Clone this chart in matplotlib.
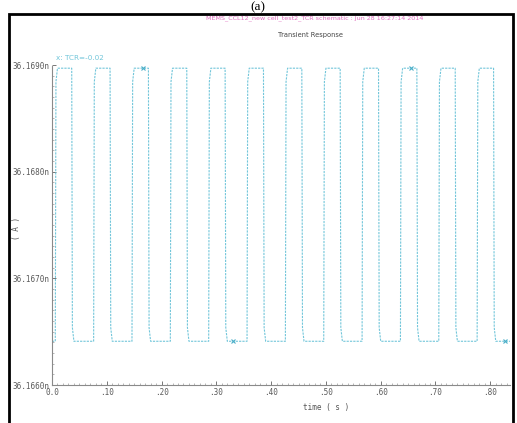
import numpy as np
import matplotlib.pyplot as plt
from matplotlib.patches import Rectangle

# pulse edges (s) and the two current levels (nA)
rise_times = [0.006, 0.076, 0.146, 0.216, 0.286, 0.356, 0.426, 0.496, 0.566, 0.636, 0.706, 0.776]
fall_times = [0.036, 0.106, 0.176, 0.246, 0.316, 0.386, 0.456, 0.526, 0.596, 0.666, 0.736, 0.806]
high_level = 36.16897
low_level = 36.16641
t_start = 0.0
t_end = 0.836

marker_t = [0.166, 0.331, 0.656, 0.827]
marker_y = [high_level, low_level, high_level, low_level]

xticks = [0.0, 0.1, 0.2, 0.3, 0.4, 0.5, 0.6, 0.7, 0.8]
xtick_labels = ["0.0", ".10", ".20", ".30", ".40", ".50", ".60", ".70", ".80"]
yticks = [36.1660, 36.1670, 36.1680, 36.1690]
ytick_labels = ["36.1660n", "36.1670n", "36.1680n", "36.1690n"]

# build the trace: square wave with slightly rounded corners
t = [t_start]
y = [low_level]
d = high_level - low_level
for r, f in zip(rise_times, fall_times):
    t += [r, r + 0.0012, r + 0.004]
    y += [low_level, high_level - 0.05 * d, high_level]
    t += [f, f + 0.0012, f + 0.004]
    y += [high_level, low_level + 0.05 * d, low_level]
t.append(t_end)
y.append(low_level)

W, H = 517, 423
fig = plt.figure(figsize=(W / 100, H / 100), dpi=100)
fig.patch.set_facecolor("white")

ax = fig.add_axes([52 / W, (H - 385) / H, (510 - 52) / W, (385 - 65) / H])
cyan = "#72c6da"
ax.plot(t, y, color=cyan, lw=0.8, ls=(0, (2, 1)))
ax.plot(marker_t, marker_y, ls="none", marker="x", ms=2.5, mew=0.8, color="#4aaec8")

ax.set_xlim(0, t_end)
ax.set_ylim(36.1660, 36.1690)
for s in ["top", "right"]:
    ax.spines[s].set_visible(False)
for s in ["left", "bottom"]:
    ax.spines[s].set_color("#8a8a8a")
    ax.spines[s].set_linewidth(0.8)
    ax.spines[s].set_linestyle((0, (2, 1)))

ax.set_xticks(xticks)
ax.set_xticklabels(xtick_labels, family="DejaVu Sans Mono", fontsize=5.5, color="#5a5a5a")
ax.set_yticks(yticks)
ax.set_yticklabels(ytick_labels, family="DejaVu Sans Mono", fontsize=5.5, color="#5a5a5a")
ax.set_xticks(np.arange(0, 0.84, 0.01), minor=True)
ax.set_yticks(np.arange(36.1660, 36.1690, 0.0001), minor=True)
ax.tick_params(axis="both", which="major", direction="in", length=3, width=0.7,
               color="#777777", pad=2)
ax.tick_params(axis="both", which="minor", direction="in", length=1.2, width=0.5,
               color="#999999")

fig.text(326 / W, 1 - 407 / H, "time ( s )", ha="center", va="center",
         fontsize=5.5, color="#555555", family="DejaVu Sans Mono")
fig.text(17 / W, 1 - 228 / H, "( A )", ha="center", va="center", rotation=90,
         fontsize=5.5, color="#555555", family="DejaVu Sans Mono")

fig.text(315 / W, 1 - 18 / H, "MEMS_CCL12_new cell_test2_TCR schematic : Jun 28 16:27:14 2014",
         ha="center", va="center", fontsize=4.6, color="#e070c0", family="DejaVu Sans")
fig.text(310 / W, 1 - 35 / H, "Transient Response", ha="center", va="center",
         fontsize=4.8, color="#444444", family="DejaVu Sans")
fig.text(56 / W, 1 - 58 / H, "x: TCR=-0.02", ha="left", va="center",
         fontsize=5.2, color=cyan, family="DejaVu Sans")

fig.text(258 / W, 1 - 1 / H, "(a)", ha="center", va="top",
         fontsize=9.5, color="black", family="Liberation Serif")

fig.patches.append(Rectangle((9 / W, -0.02), (513 - 9) / W, (H - 14) / H + 0.02,
                             transform=fig.transFigure, fill=False,
                             edgecolor="black", lw=2))

fig.savefig("out.png", dpi=100)
